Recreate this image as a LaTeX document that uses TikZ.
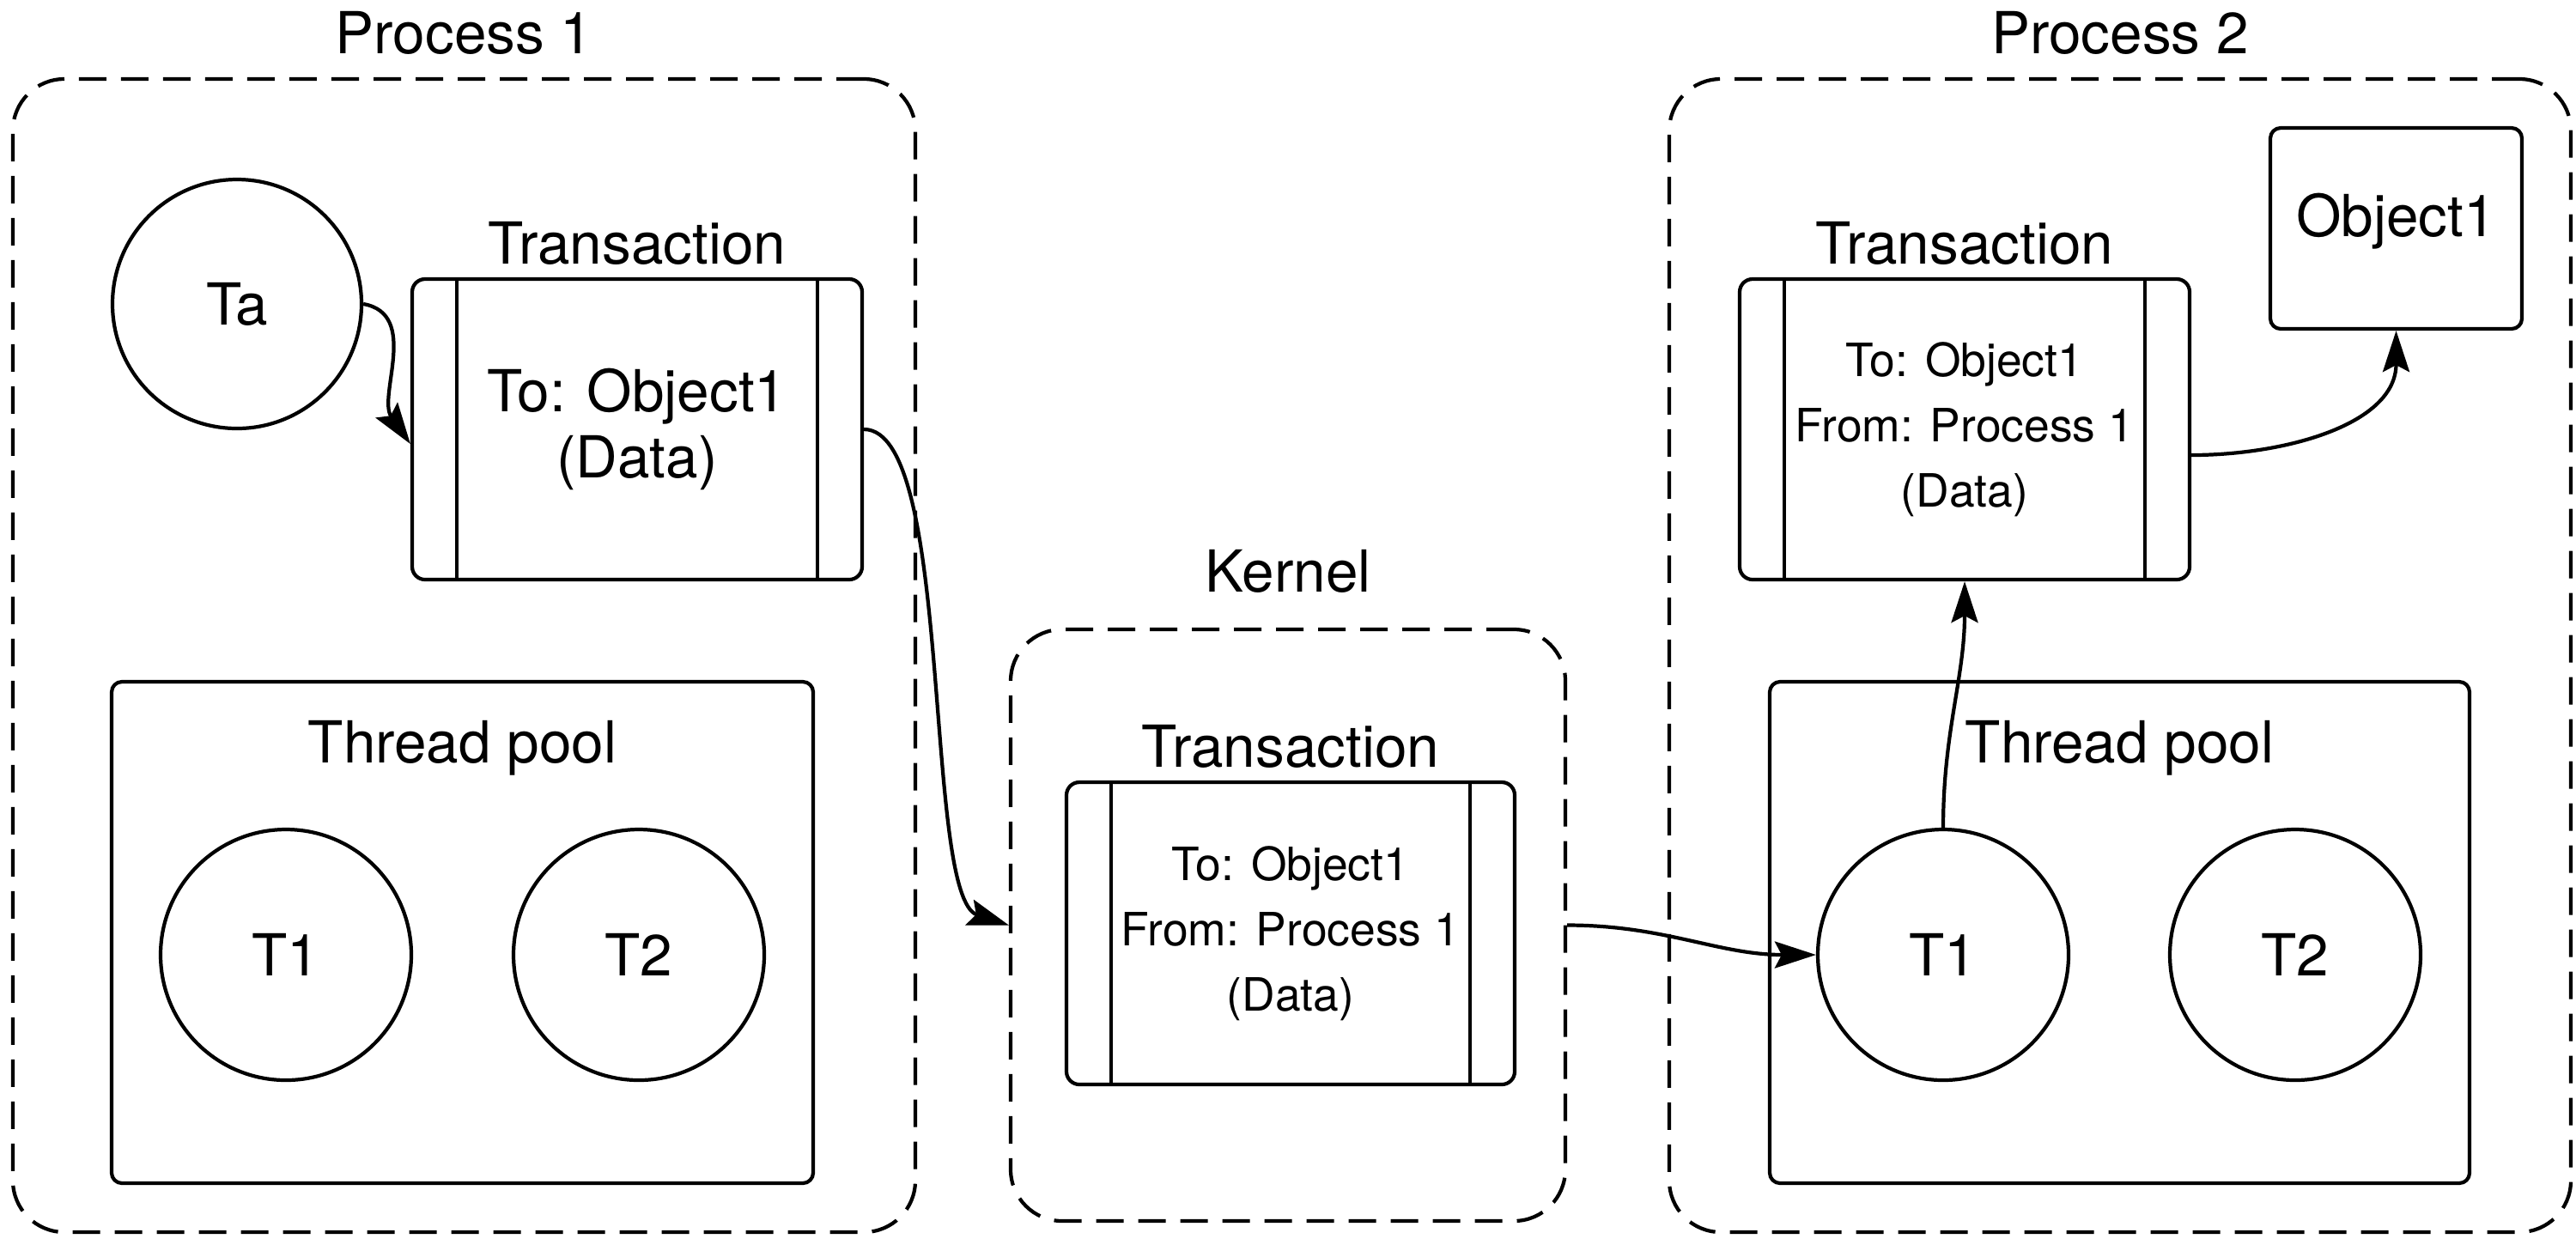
\documentclass[tikz,border=0pt]{standalone}
\usepackage{fontspec}
\setmainfont{TeX Gyre Heros}
\usetikzlibrary{positioning,arrows.meta}

\tikzset{
	every node/.style={font=\fontsize{19.2}{21.7}\selectfont},
	group/.style={draw, rounded corners=0.6cm, line width=1.2pt, dash pattern=on 0.32cm off 0.17cm},
	pool/.style={draw, rounded corners=0.12cm, line width=1.2pt},
	thread/.style={draw, circle, minimum size=2.92cm, inner sep=0pt, line width=1.2pt},
	txn/.style={draw, rounded corners=0.15cm, minimum width=5.24cm, minimum height=3.5cm, align=center, line width=1.2pt,
		path picture={\draw[line width=1.2pt]
			([xshift=0.52cm]path picture bounding box.north west) -- ([xshift=0.52cm]path picture bounding box.south west)
			([xshift=-0.52cm]path picture bounding box.north east) -- ([xshift=-0.52cm]path picture bounding box.south east);}},
	small/.style={font=\fontsize{15.2}{21.7}\selectfont},
	title/.style={inner sep=0pt},
	msg/.style={-{Stealth[length=0.48cm,width=0.31cm,inset=0.08cm]}, line width=1.2pt},
}

\begin{document}
\begin{tikzpicture}
	\useasboundingbox (0,0) rectangle (30,-14.42);
	\node[group, minimum width=10.51cm, minimum height=13.43cm] (p1) at (5.405,-7.635) {};
	\node[group, minimum width=10.50cm, minimum height=13.43cm] (p2) at (24.69,-7.635) {};
	\node[group, minimum width=6.46cm, minimum height=6.89cm] (kern) at (15.00,-10.775) {};
	\node[title, above=0.26cm of p1] (p1t) {Process 1};
	\node[title, above=0.26cm of p2] (p2t) {Process 2};
	\node[title, above=0.40cm of kern] (kernt) {Kernel};

	\node[thread, minimum size=2.9cm] (ta) at (2.76,-3.54) {Ta};
	\node[txn] (tx1) at (7.42,-5.00) {To: Object1\\(Data)};
	\node[title, above=0.14cm of tx1] (tx1t) {Transaction};
	\node[pool, minimum width=8.17cm, minimum height=5.84cm] (pool1) at (5.385,-10.86) {};
	\node[title, below=0.47cm of pool1.north] (pool1t) {Thread pool};
	\node[thread] (t1a) at (3.33,-11.12) {T1};
	\node[thread] (t2a) at (7.44,-11.12) {T2};

	\node[txn, small, minimum width=5.22cm, minimum height=3.52cm] (tx0) at (15.03,-10.87) {To: Object1\\From: Process 1\\(Data)};
	\node[title, above=0.14cm of tx0] (tx0t) {Transaction};

	\node[txn, small] (tx2) at (22.88,-5.00) {To: Object1\\From: Process 1\\(Data)};
	\node[title, above=0.14cm of tx2] (tx2t) {Transaction};
	\node[pool, minimum width=2.93cm, minimum height=2.34cm, text depth=0.32cm] (obj) at (27.905,-2.66) {Object1};
	\node[pool, minimum width=8.15cm, minimum height=5.84cm] (pool2) at (24.685,-10.86) {};
	\node[title, below=0.47cm of pool2.north] (pool2t) {Thread pool};
	\node[thread] (t1b) at (22.63,-11.12) {T1};
	\node[thread] (t2b) at (26.73,-11.12) {T2};

	\draw[msg] (ta.east) to[out=-10,in=125] ([yshift=-0.17cm]tx1.west);
	\draw[msg] (tx1.east) to[out=0,in=162,looseness=0.45] (kern.west);
	\draw[msg] (kern.east) to[out=0,in=180] (t1b.west);
	\draw[msg] (t1b.north) to[out=90,in=-90] (tx2.south);
	\draw[msg] ([yshift=-0.3cm]tx2.east) to[out=0,in=-90] (obj.south);
\end{tikzpicture}
\end{document}
